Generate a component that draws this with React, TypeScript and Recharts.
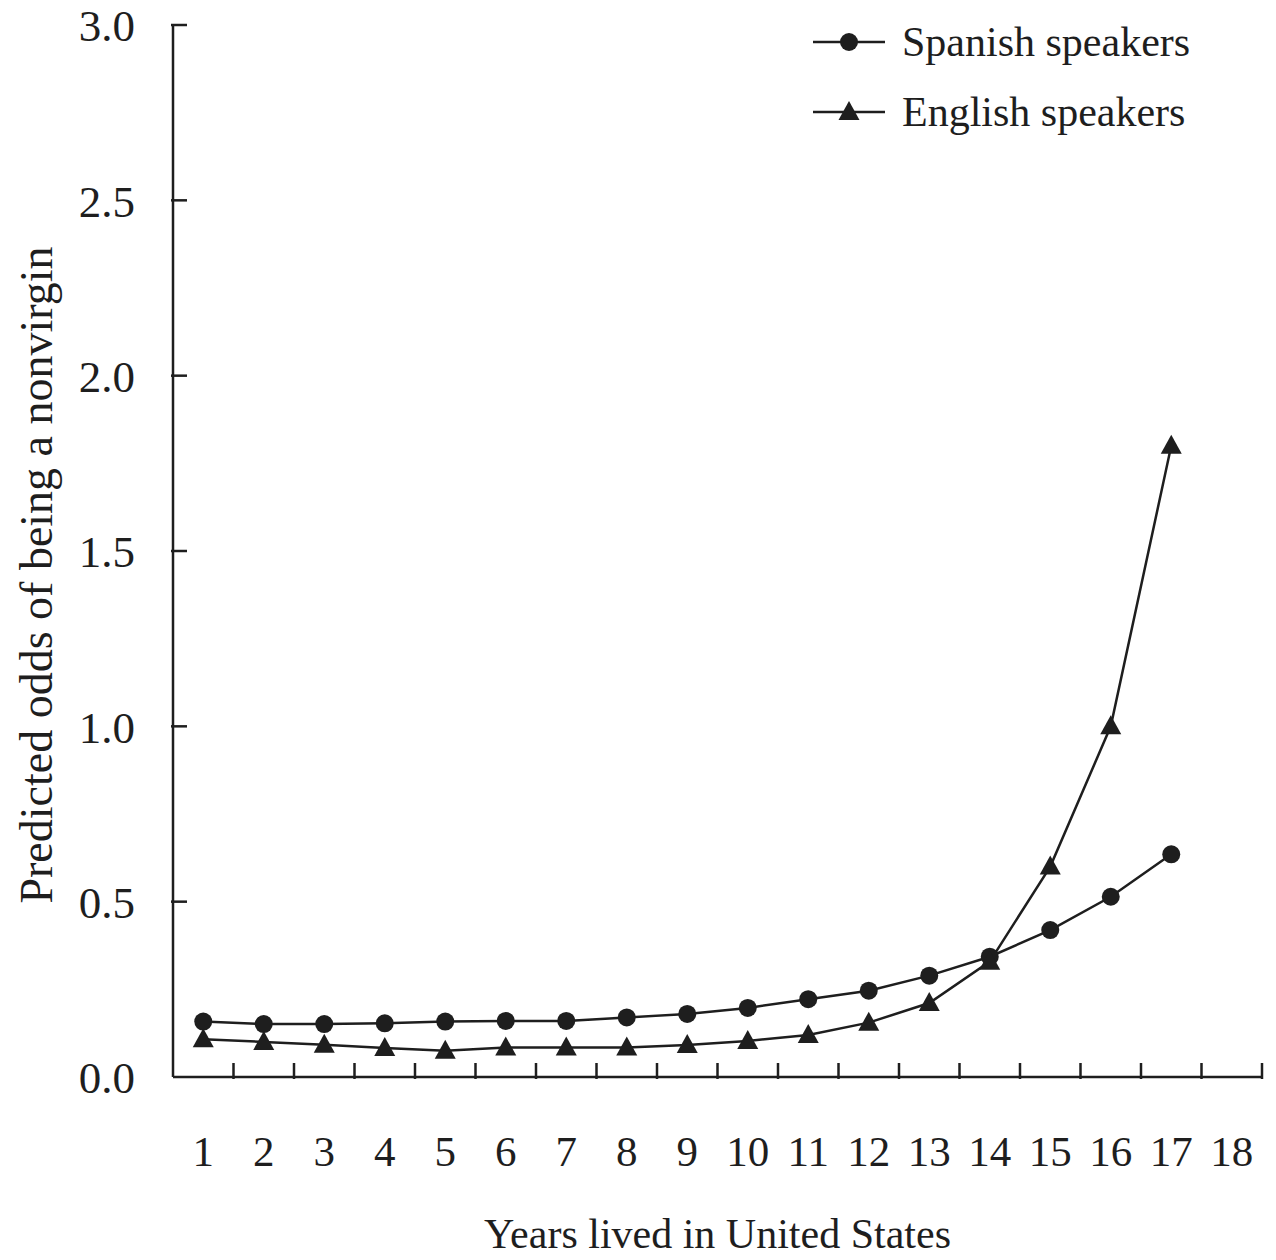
import { LineChart, Line, XAxis, YAxis, Label } from "recharts"

const years = [1, 2, 3, 4, 5, 6, 7, 8, 9, 10, 11, 12, 13, 14, 15, 16, 17]
const spanish = [0.158, 0.151, 0.151, 0.153, 0.158, 0.16, 0.16, 0.17, 0.18, 0.197, 0.222, 0.246, 0.289, 0.343, 0.419, 0.514, 0.635]
const english = [0.108, 0.1, 0.092, 0.083, 0.075, 0.084, 0.084, 0.084, 0.091, 0.103, 0.12, 0.155, 0.211, 0.329, 0.6, 1.0, 1.8]
const xTicks = [1, 2, 3, 4, 5, 6, 7, 8, 9, 10, 11, 12, 13, 14, 15, 16, 17, 18]
const xBounds = [1.5, 2.5, 3.5, 4.5, 5.5, 6.5, 7.5, 8.5, 9.5, 10.5, 11.5, 12.5, 13.5, 14.5, 15.5, 16.5, 17.5, 18.5]
const yTicks = [0, 0.5, 1, 1.5, 2, 2.5, 3]
const seriesNames = ["Spanish speakers", "English speakers"]

const data = years.map((y, i) => ({ year: y, spanish: spanish[i], english: english[i] }))

const INK = "#1e1e1e"
const FONT = "'Liberation Serif', 'DejaVu Serif', serif"

const circleDot = (p: any) => <circle key={`c${p.index}`} cx={p.cx} cy={p.cy} r={9} fill={INK} />
const triDot = (p: any) => (
  <polygon key={`t${p.index}`} points={`${p.cx},${p.cy - 11} ${p.cx - 10.5},${p.cy + 8} ${p.cx + 10.5},${p.cy + 8}`} fill={INK} />
)

const XTick = (p: any) => {
  const v = p.payload.value
  if (Number.isInteger(v)) {
    return (
      <text x={p.x} y={p.y + 87} textAnchor="middle" fontSize={43} fontFamily={FONT} fill={INK}>{v}</text>
    )
  }
  return <line x1={p.x} x2={p.x} y1={p.y} y2={p.y - 16} stroke={INK} strokeWidth={2.5} />
}

const YTick = (p: any) => {
  const v = p.payload.value
  return (
    <g>
      {v > 0 && <line x1={p.x} x2={p.x + 16} y1={p.y} y2={p.y} stroke={INK} strokeWidth={2.5} />}
      <text x={p.x - 36} y={p.y} dy="0.36em" textAnchor="end" fontSize={45} fontFamily={FONT} fill={INK}>{v.toFixed(1)}</text>
    </g>
  )
}

const YTitle = (p: any) => {
  const vb = p.viewBox
  const cx = vb.x + 36
  const cy = vb.y + vb.height / 2 + 24
  return (
    <text x={cx} y={cy} transform={`rotate(-90, ${cx}, ${cy})`} textAnchor="middle" dominantBaseline="central" fontSize={46} fontFamily={FONT} fill={INK}>
      Predicted odds of being a nonvirgin
    </text>
  )
}

function LegendBox() {
  return (
    <div style={{ position: "absolute", left: 810, top: 7, fontFamily: FONT, fontSize: 42, color: INK }}>
      {seriesNames.map((n, i) => (
        <div key={n} style={{ display: "flex", alignItems: "center", height: 70 }}>
          <svg width={78} height={30} style={{ marginRight: 14 }}>
            <line x1={3} x2={75} y1={15} y2={15} stroke={INK} strokeWidth={2.5} />
            {i === 0 ? <circle cx={39} cy={15} r={9} fill={INK} /> : <polygon points="39,4 28.5,23 49.5,23" fill={INK} />}
          </svg>
          <span style={{ lineHeight: 1 }}>{n}</span>
        </div>
      ))}
    </div>
  )
}

export default function App() {
  return (
    <div style={{ position: "absolute", left: 0, top: 0, width: 1276, height: 1260, background: "#fff" }}>
      <LineChart width={1276} height={1260} data={data} margin={{ top: 25, right: 14, bottom: 0, left: 0 }}>
        <XAxis
          dataKey="year"
          type="number"
          domain={[0.5, 18.5]}
          ticks={[...xTicks, ...xBounds]}
          interval={0}
          height={183}
          tickSize={0}
          tickLine={false}
          tick={<XTick />}
          axisLine={{ stroke: INK, strokeWidth: 2.5 }}
        >
          <Label value="Years lived in United States" position="insideBottom" offset={12} style={{ fontSize: 42, fontFamily: FONT, fill: INK }} />
        </XAxis>
        <YAxis
          type="number"
          domain={[0, 3]}
          ticks={yTicks}
          interval={0}
          width={173}
          tickSize={0}
          tickLine={false}
          tick={<YTick />}
          axisLine={{ stroke: INK, strokeWidth: 2.5 }}
        >
          <Label content={<YTitle />} />
        </YAxis>
        <Line dataKey="spanish" stroke={INK} strokeWidth={2.5} dot={circleDot} isAnimationActive={false} />
        <Line dataKey="english" stroke={INK} strokeWidth={2.5} dot={triDot} isAnimationActive={false} />
      </LineChart>
      <LegendBox />
    </div>
  )
}
